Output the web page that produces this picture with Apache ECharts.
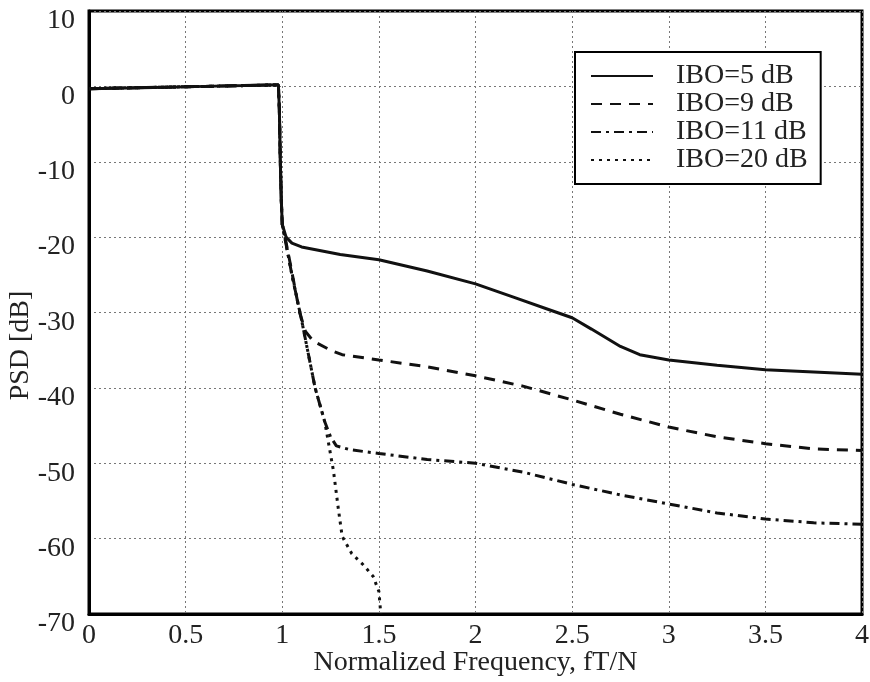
<!DOCTYPE html>
<html>
<head>
<meta charset="utf-8">
<script src="https://cdn.jsdelivr.net/npm/echarts@6/dist/echarts.min.js"></script>
<style>
  html, body { margin: 0; padding: 0; background: #fff; }
  #chart { width: 870px; height: 682px; }
</style>
</head>
<body>
<div id="chart"></div>
<script>
// passband + steep edge, shared by all curves
const passX = [0, 0.2, 0.4, 0.6, 0.8, 0.98, 0.985, 0.99, 0.995, 1.0];
const passY = [-0.3, -0.2, -0.1, 0, 0.1, 0.2, -3, -10, -15, -18.3];

// IBO=5 dB
const x5 = [1.02, 1.05, 1.1, 1.2, 1.3, 1.5, 1.75, 2, 2.2, 2.4, 2.5, 2.6, 2.75, 2.85, 3, 3.25, 3.5, 3.75, 4];
const y5 = [-20, -20.8, -21.3, -21.8, -22.3, -23, -24.5, -26.2, -28, -29.8, -30.7, -32.2, -34.5, -35.6, -36.3, -37, -37.6, -37.9, -38.2];

// IBO=9 dB
const x9 = [1.03, 1.06, 1.09, 1.12, 1.16, 1.25, 1.31, 1.5, 1.75, 2, 2.25, 2.5, 2.75, 3, 3.25, 3.5, 3.75, 4];
const y9 = [-22, -26, -30, -32.5, -33.8, -35, -35.6, -36.3, -37.2, -38.4, -39.8, -41.6, -43.5, -45.2, -46.5, -47.4, -48.1, -48.3];

// IBO=11 dB
const x11 = [1.05, 1.1, 1.17, 1.22, 1.25, 1.28, 1.35, 1.5, 1.75, 2, 2.25, 2.5, 2.75, 3, 3.25, 3.5, 3.75, 4];
const y11 = [-25, -31, -40, -44.5, -46.5, -47.7, -48.2, -48.7, -49.5, -50, -51.2, -52.8, -54.2, -55.4, -56.6, -57.4, -57.9, -58.1];

// IBO=20 dB
const x20 = [1.05, 1.1, 1.17, 1.22, 1.265, 1.29, 1.31, 1.36, 1.42, 1.47, 1.5, 1.51];
const y20 = [-25, -31, -40, -44.5, -51, -56, -59.7, -62, -63.5, -65, -67, -70];

const names = ["IBO=5 dB", "IBO=9 dB", "IBO=11 dB", "IBO=20 dB"];
const dashes = ["solid", [11, 8], [10, 5, 3, 5], [3, 5]];

function pts(xs, ys) {
  const a = passX.map((x, i) => [x, passY[i]]);
  return a.concat(xs.map((x, i) => [x, ys[i]]));
}

const font = "Liberation Serif";
const txt = { fontFamily: font, fontSize: 28, color: "#222" };
const chart = echarts.init(document.getElementById("chart"));

chart.setOption({
  animation: false,
  grid: {
    left: 89, right: 8, top: 11, bottom: 68, outerBoundsMode: "none", containLabel: false,
    show: true, borderColor: "#000", borderWidth: 3
  },
  xAxis: {
    type: "value", min: 0, max: 4, interval: 0.5,
    name: "Normalized Frequency, fT/N", nameLocation: "middle", nameGap: 35,
    nameMoveOverlap: false,
    nameTextStyle: txt,
    axisLine: { onZero: false, lineStyle: { color: "#000", width: 3 } },
    axisTick: { show: false },
    axisLabel: Object.assign({ margin: 8 }, txt),
    splitLine: { lineStyle: { type: [2, 3], color: "#777", width: 1 } }
  },
  yAxis: {
    type: "value", min: -70, max: 10, interval: 10,
    name: "PSD [dB]", nameLocation: "middle", nameGap: 54,
    nameMoveOverlap: false,
    nameTextStyle: Object.assign({ padding: [0, 66, 0, 0] }, txt),
    axisLine: { onZero: false, lineStyle: { color: "#000", width: 3 } },
    axisTick: { show: false },
    axisLabel: Object.assign({ margin: 14, verticalAlign: "top", lineHeight: 20 }, txt),
    splitLine: { lineStyle: { type: [2, 3], color: "#777", width: 1 } }
  },
  legend: {
    orient: "vertical", left: 575, top: 52,
    backgroundColor: "#fff", borderColor: "#000", borderWidth: 2,
    padding: [10, 13, 10, 15], itemGap: 0,
    itemWidth: 62, itemHeight: 28,
    itemStyle: { opacity: 0 },
    textStyle: Object.assign({ padding: [0, 0, 0, 18] }, txt),
    data: names
  },
  series: [
    [x5, y5], [x9, y9], [x11, y11], [x20, y20]
  ].map((d, i) => ({
    name: names[i], type: "line", symbol: "none",
    data: pts(d[0], d[1]),
    lineStyle: { color: "#111", width: 3, type: dashes[i] },
    itemStyle: { color: "#111" },
    z: 5 - i
  }))
});
</script>
</body>
</html>
